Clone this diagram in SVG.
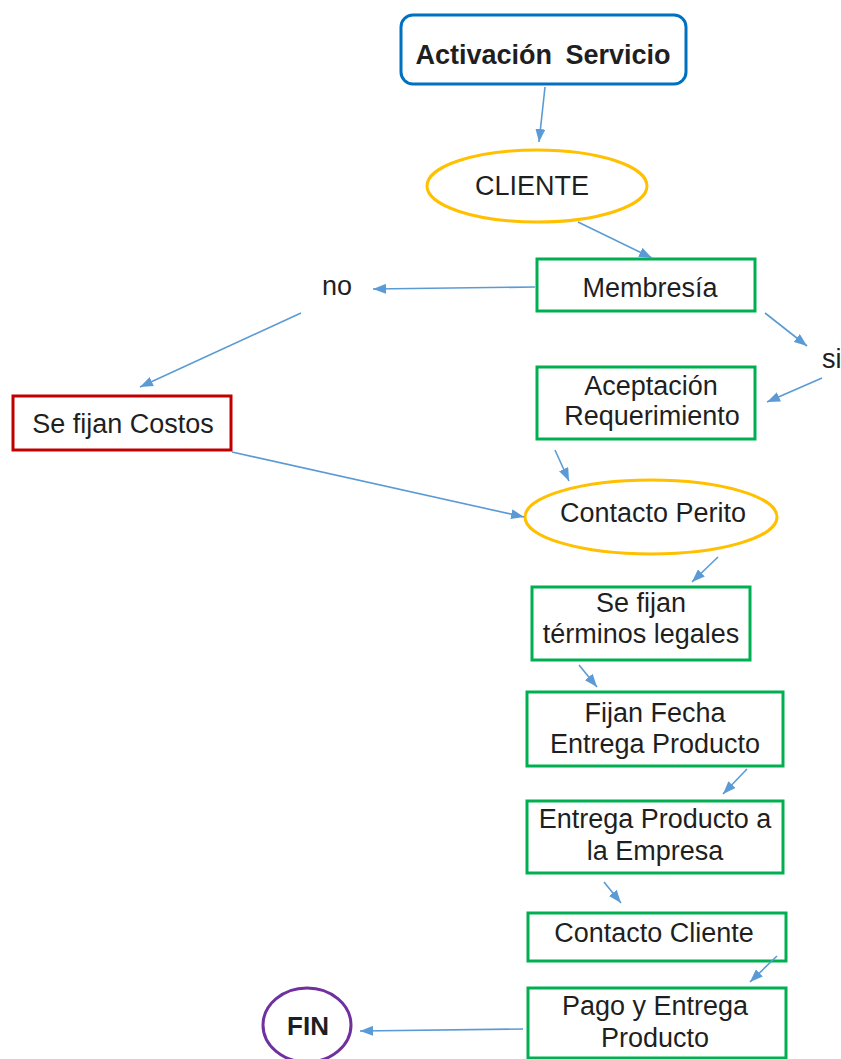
<svg xmlns="http://www.w3.org/2000/svg" width="841" height="1059" viewBox="0 0 841 1059">
<style>
text{font-family:"Liberation Sans",Arial,sans-serif;font-size:27px;fill:#1f1f1f;text-anchor:middle}
.b{font-weight:bold;font-size:26px}
.g{fill:#fff;stroke:#00B050;stroke-width:3}
.o{fill:#fff;stroke:#FFC000;stroke-width:3}
.c line{stroke:#5B9BD5;stroke-width:1.6;marker-end:url(#ah)}
</style>
<defs>
<marker id="ah" markerUnits="userSpaceOnUse" markerWidth="13" markerHeight="10" refX="13" refY="5" orient="auto"><path d="M0,0 L13,5 L0,10 z" fill="#5B9BD5"/></marker>
</defs>
<rect width="841" height="1059" fill="#fff"/>
<g id="n-activacion"><rect x="401" y="15" width="285" height="69" rx="12" fill="#fff" stroke="#0070C0" stroke-width="3"/><text class="b" x="543" y="64" style="font-size:27px" word-spacing="6">Activación Servicio</text></g>
<g id="n-cliente"><ellipse cx="537" cy="186" rx="110" ry="36" class="o"/><text x="532" y="195">CLIENTE</text></g>
<g id="n-membresia"><rect x="537" y="259" width="218" height="52" class="g"/><text x="650" y="297">Membresía</text></g>
<g id="n-no"><text x="337" y="295">no</text></g>
<g id="n-si"><text x="822" y="368" style="text-anchor:start">si</text></g>
<g id="n-costos"><rect x="13" y="396" width="218" height="54" fill="#fff" stroke="#C00000" stroke-width="3"/><text x="123" y="433">Se fijan Costos</text></g>
<g id="n-aceptacion"><rect x="537" y="367" width="218" height="72" class="g"/><text x="651" y="395">Aceptación</text><text x="652" y="425">Requerimiento</text></g>
<g id="n-perito"><ellipse cx="651" cy="517" rx="126" ry="37" class="o"/><text x="653" y="522">Contacto Perito</text></g>
<g id="n-terminos"><rect x="532" y="587" width="218" height="73" class="g"/><text x="641" y="612">Se fijan</text><text x="641" y="643">términos legales</text></g>
<g id="n-fecha"><rect x="527" y="692" width="256" height="74" class="g"/><text x="655" y="722">Fijan Fecha</text><text x="655" y="753">Entrega Producto</text></g>
<g id="n-empresa"><rect x="527" y="801" width="256" height="72" class="g"/><text x="655" y="828">Entrega Producto a</text><text x="655" y="860">la Empresa</text></g>
<g id="n-contacto-cliente"><rect x="528" y="913" width="258" height="48" class="g"/><text x="654" y="942">Contacto Cliente</text></g>
<g id="n-pago"><rect x="528" y="988" width="258" height="70" class="g"/><text x="655" y="1015">Pago y Entrega</text><text x="655" y="1047">Producto</text></g>
<g id="n-fin"><ellipse cx="307" cy="1025" rx="44" ry="37" fill="#fff" stroke="#7030A0" stroke-width="3"/><text class="b" x="308" y="1035">FIN</text></g>
<g id="connectors" class="c">
<line x1="545" y1="87" x2="539" y2="142"/>
<line x1="578" y1="222" x2="652" y2="258"/>
<line x1="535" y1="287" x2="373" y2="289"/>
<line x1="301" y1="313" x2="140" y2="387"/>
<line x1="765" y1="313" x2="807" y2="346"/>
<line x1="822" y1="378" x2="767" y2="402"/>
<line x1="555" y1="450" x2="569" y2="481"/>
<line x1="232" y1="452" x2="524" y2="517"/>
<line x1="718" y1="557" x2="692" y2="582"/>
<line x1="579" y1="665" x2="597" y2="687"/>
<line x1="747" y1="769" x2="723" y2="794"/>
<line x1="604" y1="882" x2="621" y2="903"/>
<line x1="777" y1="956" x2="750" y2="982"/>
<line x1="523" y1="1029" x2="360" y2="1031"/>
</g>
</svg>
